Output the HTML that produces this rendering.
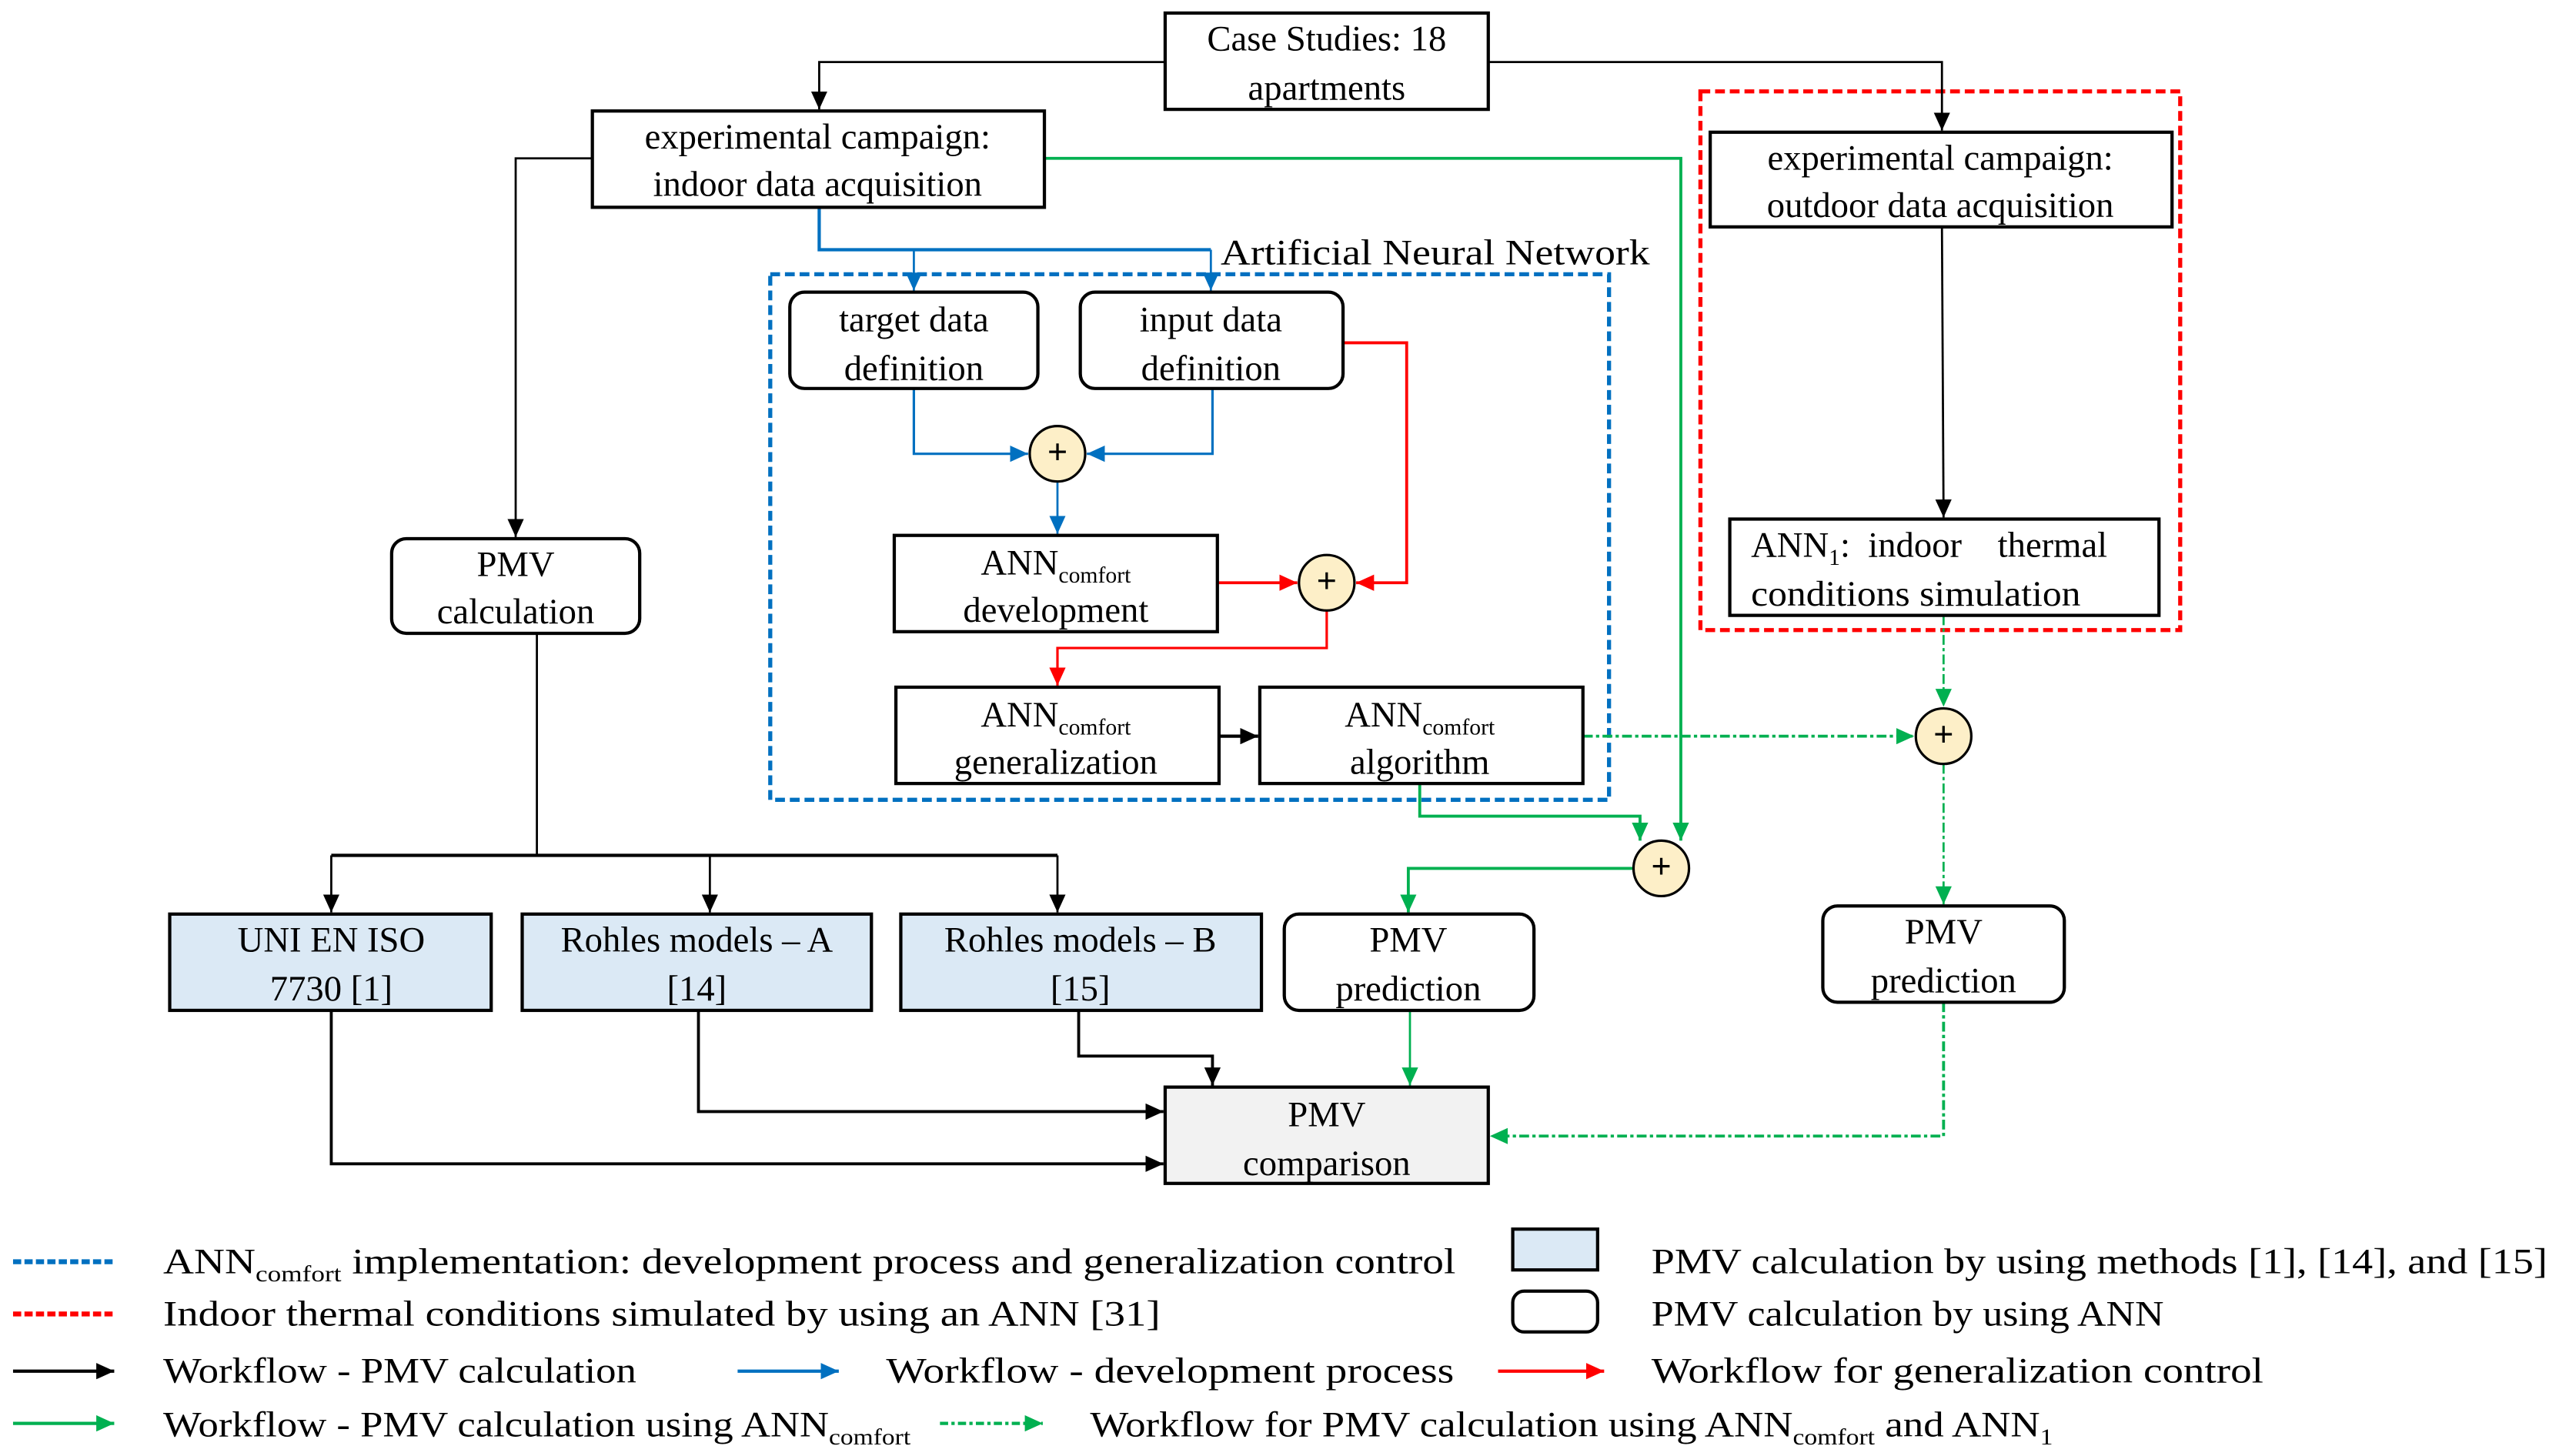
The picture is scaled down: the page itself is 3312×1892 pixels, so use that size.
<!DOCTYPE html>
<html><head><meta charset="utf-8"><style>
html,body{margin:0;padding:0;background:#fff}
svg{display:block}
text{font-family:"Liberation Serif",serif;font-size:22px;fill:#000}
</style></head><body>
<svg width="3312" height="1892" viewBox="0 0 1562 892" preserveAspectRatio="none" xmlns="http://www.w3.org/2000/svg">
<defs>
<marker id="ak" markerUnits="userSpaceOnUse" markerWidth="12" markerHeight="10" refX="11" refY="5" orient="auto"><path d="M0,0 L11,5 L0,10 z" fill="#000"/></marker>
<marker id="ab" markerUnits="userSpaceOnUse" markerWidth="12" markerHeight="10" refX="11" refY="5" orient="auto"><path d="M0,0 L11,5 L0,10 z" fill="#0070c0"/></marker>
<marker id="ar" markerUnits="userSpaceOnUse" markerWidth="12" markerHeight="10" refX="11" refY="5" orient="auto"><path d="M0,0 L11,5 L0,10 z" fill="#ff0000"/></marker>
<marker id="ag" markerUnits="userSpaceOnUse" markerWidth="12" markerHeight="10" refX="11" refY="5" orient="auto"><path d="M0,0 L11,5 L0,10 z" fill="#00b050"/></marker>
</defs>
<g fill="none" stroke-width="1.3">
<rect x="472" y="168" width="514" height="322" stroke="#0070c0" stroke-width="2.5" stroke-dasharray="6,3"/>
<rect x="1042" y="56" width="294" height="330" stroke="#ff0000" stroke-width="2.5" stroke-dasharray="6,3"/>
<path d="M714,38 H502 V67" stroke="#000" marker-end="url(#ak)"/>
<path d="M912,38 H1190 V80" stroke="#000" marker-end="url(#ak)"/>
<path d="M363,97 H316 V329" stroke="#000" marker-end="url(#ak)"/>
<path d="M1190,139 L1191,317" stroke="#000" marker-end="url(#ak)"/>
<path d="M329,388 V524" stroke="#000"/>
<path d="M203,524 H648" stroke="#000" stroke-width="2"/>
<path d="M203,524 V559" stroke="#000" marker-end="url(#ak)"/>
<path d="M435,524 V559" stroke="#000" marker-end="url(#ak)"/>
<path d="M648,524 V559" stroke="#000" marker-end="url(#ak)"/>
<path d="M661,619 V647 H743 V665" stroke="#000" stroke-width="1.8" marker-end="url(#ak)"/>
<path d="M428,619 V681 H713" stroke="#000" stroke-width="1.8" marker-end="url(#ak)"/>
<path d="M203,619 V713 H713" stroke="#000" stroke-width="1.8" marker-end="url(#ak)"/>
<path d="M747,451 H771" stroke="#000" stroke-width="2" marker-end="url(#ak)"/>
<path d="M502,127 V153 H742" stroke="#0070c0" stroke-width="2"/>
<path d="M560,153 V178" stroke="#0070c0" marker-end="url(#ab)"/>
<path d="M742,153 V178" stroke="#0070c0" marker-end="url(#ab)"/>
<path d="M560,238 V278 H630" stroke="#0070c0" stroke-width="1.5" marker-end="url(#ab)"/>
<path d="M743,238 V278 H666" stroke="#0070c0" stroke-width="1.5" marker-end="url(#ab)"/>
<path d="M648,295 V327" stroke="#0070c0" marker-end="url(#ab)"/>
<path d="M746,357 H795" stroke="#ff0000" stroke-width="1.8" marker-end="url(#ar)"/>
<path d="M823,210 H862 V357 H831" stroke="#ff0000" stroke-width="1.8" marker-end="url(#ar)"/>
<path d="M813,374 V397 H648 V420" stroke="#ff0000" stroke-width="1.5" marker-end="url(#ar)"/>
<path d="M640,97 H1030 V515" stroke="#00b050" stroke-width="1.8" marker-end="url(#ag)"/>
<path d="M870,480 V500 H1005 V515" stroke="#00b050" stroke-width="1.8" marker-end="url(#ag)"/>
<path d="M1001,532 H863 V559" stroke="#00b050" stroke-width="1.8" marker-end="url(#ag)"/>
<path d="M864,619 V665" stroke="#00b050" stroke-width="1.3" marker-end="url(#ag)"/>
<path d="M970,451 H1173" stroke="#00b050" stroke-width="1.8" stroke-dasharray="6,2,2,2" marker-end="url(#ag)"/>
<path d="M1191,377 V433" stroke="#00b050" stroke-dasharray="6,2,2,2" marker-end="url(#ag)"/>
<path d="M1191,468 V554" stroke="#00b050" stroke-dasharray="6,2,2,2" marker-end="url(#ag)"/>
<path d="M1191,614 V696 H913" stroke="#00b050" stroke-width="1.8" stroke-dasharray="6,2,2,2" marker-end="url(#ag)"/>
</g>
<g stroke="#000" stroke-width="2" fill="#fff">
<rect x="714" y="8" width="198" height="59"/>
<rect x="363" y="68" width="277" height="59"/>
<rect x="1048" y="81" width="283" height="58"/>
<rect x="1060" y="318" width="263" height="59"/>
<rect x="484" y="179" width="152" height="59" rx="9"/>
<rect x="662" y="179" width="161" height="59" rx="9"/>
<rect x="548" y="328" width="198" height="59"/>
<rect x="549" y="421" width="198" height="59"/>
<rect x="772" y="421" width="198" height="59"/>
<rect x="240" y="330" width="152" height="58" rx="9"/>
<rect x="104" y="560" width="197" height="59" fill="#dbe9f5"/>
<rect x="320" y="560" width="214" height="59" fill="#dbe9f5"/>
<rect x="552" y="560" width="221" height="59" fill="#dbe9f5"/>
<rect x="787" y="560" width="153" height="59" rx="9"/>
<rect x="1117" y="555" width="148" height="59" rx="9"/>
<rect x="714" y="666" width="198" height="59" fill="#f2f2f2"/>
</g>
<g stroke="#000" stroke-width="1.5" fill="#fdefc8">
<circle cx="648" cy="278" r="17"/>
<circle cx="813" cy="357" r="17"/>
<circle cx="1191" cy="451" r="17"/>
<circle cx="1018" cy="532" r="17"/>
</g>
<g font-weight="bold" text-anchor="middle" style="font-size:18px">
<text x="648" y="284">+</text><text x="813" y="363">+</text><text x="1191" y="457">+</text><text x="1018" y="538">+</text>
</g>
<g text-anchor="middle">
<text x="813" y="31">Case Studies: 18</text><text x="813" y="61">apartments</text>
<text x="501" y="91">experimental campaign:</text><text x="501" y="120">indoor data acquisition</text>
<text x="1189" y="104">experimental campaign:</text><text x="1189" y="133">outdoor data acquisition</text>
<text x="560" y="203">target data</text><text x="560" y="233">definition</text>
<text x="742" y="203">input data</text><text x="742" y="233">definition</text>
<text x="647" y="352">ANN<tspan style="font-size:14px" dy="5">comfort</tspan></text><text x="647" y="381">development</text>
<text x="647" y="445">ANN<tspan style="font-size:14px" dy="5">comfort</tspan></text><text x="647" y="474">generalization</text>
<text x="870" y="445">ANN<tspan style="font-size:14px" dy="5">comfort</tspan></text><text x="870" y="474">algorithm</text>
<text x="316" y="353">PMV</text><text x="316" y="382">calculation</text>
<text x="203" y="583">UNI EN ISO</text><text x="203" y="613">7730 [1]</text>
<text x="427" y="583">Rohles models – A</text><text x="427" y="613">[14]</text>
<text x="662" y="583">Rohles models – B</text><text x="662" y="613">[15]</text>
<text x="863" y="583">PMV</text><text x="863" y="613">prediction</text>
<text x="1191" y="578">PMV</text><text x="1191" y="608">prediction</text>
<text x="813" y="690">PMV</text><text x="813" y="720">comparison</text>
</g>
<text x="1073" y="341">ANN<tspan style="font-size:14px" dy="5">1</tspan><tspan dy="-5">:&#160;&#160;indoor&#160;&#160;&#160;&#160;thermal</tspan></text>
<text x="1073" y="371" textLength="202" lengthAdjust="spacingAndGlyphs">conditions simulation</text>
<text x="748" y="162" textLength="263" lengthAdjust="spacingAndGlyphs">Artificial Neural Network</text>
<g fill="none">
<path d="M8,773 H70" stroke="#0070c0" stroke-width="3" stroke-dasharray="5,2"/>
<path d="M8,805 H70" stroke="#ff0000" stroke-width="3" stroke-dasharray="5,2"/>
<path d="M8,840 H70" stroke="#000" stroke-width="2" marker-end="url(#ak)"/>
<path d="M452,840 H514" stroke="#0070c0" stroke-width="2" marker-end="url(#ab)"/>
<path d="M918,840 H983" stroke="#ff0000" stroke-width="2" marker-end="url(#ar)"/>
<path d="M8,872 H70" stroke="#00b050" stroke-width="2" marker-end="url(#ag)"/>
<path d="M576,872 H639" stroke="#00b050" stroke-width="2" stroke-dasharray="5,2,2,2" marker-end="url(#ag)"/>
<rect x="927" y="753" width="52" height="25" stroke="#000" stroke-width="2" fill="#dbe9f5"/>
<rect x="927" y="791" width="52" height="25" rx="7" stroke="#000" stroke-width="2" fill="#fff"/>
</g>
<text x="100" y="780" textLength="792" lengthAdjust="spacingAndGlyphs">ANN<tspan style="font-size:14px" dy="5">comfort</tspan><tspan dy="-5"> implementation: development process and generalization control</tspan></text>
<text x="100" y="812" textLength="611" lengthAdjust="spacingAndGlyphs">Indoor thermal conditions simulated by using an ANN [31]</text>
<text x="1012" y="780" textLength="549" lengthAdjust="spacingAndGlyphs">PMV calculation by using methods [1], [14], and [15]</text>
<text x="1012" y="812" textLength="314" lengthAdjust="spacingAndGlyphs">PMV calculation by using ANN</text>
<text x="100" y="847" textLength="290" lengthAdjust="spacingAndGlyphs">Workflow - PMV calculation</text>
<text x="543" y="847" textLength="348" lengthAdjust="spacingAndGlyphs">Workflow - development process</text>
<text x="1012" y="847" textLength="375" lengthAdjust="spacingAndGlyphs">Workflow for generalization control</text>
<text x="100" y="880" textLength="458" lengthAdjust="spacingAndGlyphs">Workflow - PMV calculation using ANN<tspan style="font-size:14px" dy="5">comfort</tspan></text>
<text x="668" y="880" textLength="590" lengthAdjust="spacingAndGlyphs">Workflow for PMV calculation using ANN<tspan style="font-size:14px" dy="5">comfort</tspan><tspan dy="-5"> and ANN</tspan><tspan style="font-size:14px" dy="5">1</tspan></text>
</svg>
</body></html>
